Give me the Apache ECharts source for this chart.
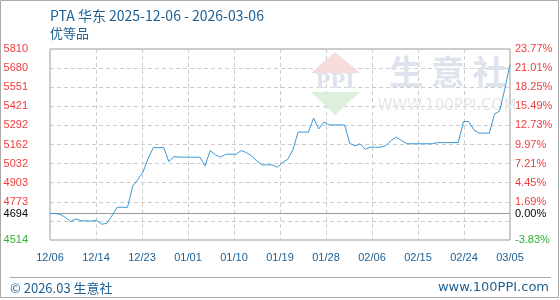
<!DOCTYPE html>
<html>
<head>
<meta charset="utf-8">
<script src="https://cdn.jsdelivr.net/npm/echarts@6/dist/echarts.min.js"></script>
<style>
html,body{margin:0;padding:0;background:#fff;}
#chart{width:560px;height:300px;}
</style>
</head>
<body>
<div id="chart"></div>
<script>
const titleText = 'PTA 华东 2025-12-06 - 2026-03-06';
const subtitleText = '优等品';
const footerLeft = '© 2026.03 生意社';
const footerRight = 'www.100PPI.com';
const xTickLabels = ['12/06','12/14','12/23','01/01','01/10','01/19','01/28','02/06','02/15','02/24','03/05'];
const leftTickLabels = ['4514','','4773','4903','5032','5162','5292','5421','5551','5680','5810'];
const rightTickLabels = ['-3.83%','','1.69%','4.45%','7.21%','9.97%','12.73%','15.49%','18.25%','21.01%','23.77%'];
const baseValue = 4694;
const baseLabelLeft = '4694';
const baseLabelRight = '0.00%';
const yMin = 4514;
const yMax = 5810;
// daily prices 12/06 .. 03/05
const prices = [
  4694,4694,4687,4667,4639,4657,4645,4643,4643,4648,
  4621,4627,4680,4736,4736,4736,4880,4925,4975,5069,
  5141,5141,5141,5046,5080,5076,5076,5076,5076,5076,
  5017,5121,5092,5076,5096,5096,5096,5121,5107,5085,
  5051,5024,5024,5024,5008,5040,5062,5126,5246,5246,
  5246,5341,5268,5314,5295,5295,5295,5295,5170,5153,
  5167,5130,5144,5144,5144,5155,5190,5212,5190,5167,
  5167,5167,5167,5167,5167,5175,5175,5175,5175,5175,
  5318,5318,5262,5239,5239,5239,5368,5390,5540,5705
];

const chart = echarts.init(document.getElementById('chart'), null, {renderer:'canvas'});
const RED = '#f03c3c', GREEN = '#2fb12f', BLUE_TXT = '#1f6194';
const lblFont = 'Liberation Sans';

const option = {
  animation: false,
  backgroundColor: '#fff',
  grid: {left: 50, right: 50, top: 49, bottom: 60, show: true, borderColor: '#999', borderWidth: 1, backgroundColor: 'transparent'},
  xAxis: [
    {type: 'value', min: 0, max: 10, interval: 1,
     axisLine: {show: false}, axisTick: {show: false},
     splitLine: {show: true, lineStyle: {color: '#cccccc', type: [4,3], width: 1}},
     axisLabel: {show: true, margin: 12, color: BLUE_TXT, fontFamily: lblFont, fontSize: 11,
       showMinLabel: true, showMaxLabel: true,
       formatter: v => xTickLabels[Math.round(v)] || ''}},
    {type: 'value', min: 0, max: prices.length - 1, show: false}
  ],
  yAxis: [
    {type: 'value', position: 'left', min: 0, max: 10, interval: 1,
     axisLine: {show: false}, axisTick: {show: false},
     splitLine: {show: true, lineStyle: {color: '#cccccc', type: [4,3], width: 1}},
     axisLabel: {margin: 22, fontFamily: lblFont, fontSize: 11, showMinLabel: true, showMaxLabel: true,
       formatter: v => leftTickLabels[Math.round(v)] || '',
       color: (v, i) => Math.round(v) === 0 ? GREEN : RED}},
    {type: 'value', position: 'right', min: 0, max: 10, interval: 1,
     axisLine: {show: false}, axisTick: {show: false}, splitLine: {show: false},
     axisLabel: {margin: 5, fontFamily: lblFont, fontSize: 11, showMinLabel: true, showMaxLabel: true,
       formatter: v => rightTickLabels[Math.round(v)] || '',
       color: (v, i) => Math.round(v) === 0 ? GREEN : RED}},
    {type: 'value', min: yMin, max: yMax, show: false}
  ],
  series: [{
    type: 'line',
    xAxisIndex: 1, yAxisIndex: 2,
    data: prices.map((v, i) => [i, v]),
    showSymbol: false, symbol: 'none',
    lineStyle: {color: '#3a97d6', width: 1},
    z: 5,
    markLine: {
      silent: true, symbol: 'none', animation: false,
      lineStyle: {color: '#999', type: 'solid', width: 1},
      data: [
        {yAxis: baseValue, label: {show: true, position: 'start', distance: 22, formatter: baseLabelLeft, color: '#000', fontFamily: lblFont, fontSize: 11}},
        {yAxis: baseValue, label: {show: true, position: 'end', distance: 5, formatter: baseLabelRight, color: '#000', fontFamily: lblFont, fontSize: 11}}
      ]
    }
  }],
  graphic: [
    {type: 'rect', shape: {x: 0.5, y: 0.5, width: 558, height: 297}, style: {fill: 'none', stroke: '#aaa', lineWidth: 1}, z: 0},
    {type: 'line', shape: {x1: 10, y1: 277.5, x2: 551, y2: 277.5}, style: {stroke: '#aaa', lineWidth: 1}, z: 0},
    {type: 'text', x: 50, y: 16, style: {text: titleText, fill: BLUE_TXT, font: '14px "Noto Sans CJK SC", "Noto Sans", sans-serif', textVerticalAlign: 'middle'}, z: 10},
    {type: 'text', x: 50, y: 33, style: {text: subtitleText, fill: BLUE_TXT, font: '13px "Noto Sans CJK SC", sans-serif', textVerticalAlign: 'middle'}, z: 10},
    {type: 'text', x: 10, y: 288, style: {text: footerLeft, fill: BLUE_TXT, font: '13px "Noto Sans CJK SC", "Noto Sans", sans-serif', textVerticalAlign: 'middle'}, z: 10},
    {type: 'text', x: 549, y: 288, style: {text: footerRight, fill: BLUE_TXT, font: '13px "DejaVu Sans", sans-serif', textAlign: 'right', textVerticalAlign: 'middle'}, z: 10},
    {type: 'polygon', shape: {points: [[335, 52], [360, 73], [311, 73]]}, style: {fill: '#f7dcdc'}, z: 1},
    {type: 'polygon', shape: {points: [[311, 92], [360, 92], [335, 115]]}, style: {fill: '#dcf0dc'}, z: 1},
    {type: 'text', x: 335, y: 83, style: {text: 'PPI', fill: '#dde2ee', font: 'bold 20px "DejaVu Serif", serif', textAlign: 'center', textVerticalAlign: 'middle'}, z: 1},
    {type: 'text', x: 448, y: 72, style: {text: '生 意 社', fill: '#dfe3ee', font: 'bold 34px "Noto Sans CJK SC", sans-serif', textAlign: 'center', textVerticalAlign: 'middle'}, z: 1},
    {type: 'text', x: 447, y: 106, style: {text: 'WWW.100PPI.COM', fill: '#e6e6e6', font: '15px "DejaVu Sans", sans-serif', textAlign: 'center', textVerticalAlign: 'middle'}, z: 1}
  ]
};
chart.setOption(option);
</script>
</body>
</html>
